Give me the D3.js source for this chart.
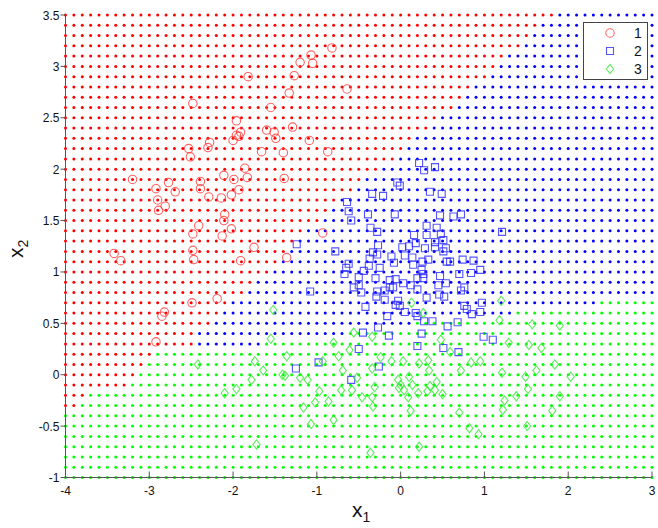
<!DOCTYPE html>
<html><head><meta charset="utf-8">
<script src="https://cdn.jsdelivr.net/npm/d3@7"></script>
<style>body{margin:0;background:#fff;} svg{display:block;font-family:Arial,"Liberation Sans",sans-serif;}</style>
</head><body><svg id="c" width="658" height="528"></svg>
<script>
const xTicks=[-4,-3,-2,-1,0,1,2,3];
const yTicks=[-1,-0.5,0,0.5,1,1.5,2,2.5,3,3.5];
const gridX=d3.range(-40,31).map(i=>i/10);
const gridY=d3.range(35,-11,-1).map(i=>i/10);
// last x of class-1 region per grid row (rows from y=3.5 down to -1.0)
const redEnd=[1.8,1.6,1.5,1.4,1.2,1.1,1.0,0.8,0.7,0.6,0.4,0.3,0.1,0.0,-0.1,-0.3,-0.5,-0.6,-0.8,-0.9,-1.0,-1.2,-1.3,-1.4,-1.5,-1.6,-1.8,-1.9,
 -2.1,-2.2,-2.3,-2.5,-2.5,-3.0,-3.1,-3.2,-3.3,-3.8,-3.9,-4.1,-4.1,-4.1,-4.1,-4.1,-4.1,-4.1];
// last x of class-2 region per grid row
const blueEnd=[3.1,3.1,3.1,3.1,3.1,3.1,3.1,3.1,3.1,3.1,3.1,3.1,3.1,3.1,3.1,3.1,3.1,3.1,3.1,3.1,3.1,3.1,3.1,3.1,3.1,3.1,3.1,3.1,
 2.3,1.3,0.1,-0.7,-1.7,-3.0,-3.1,-3.2,-3.3,-3.8,-3.9,-4.1,-4.1,-4.1,-4.1,-4.1,-4.1,-4.1];
const class1=[[-0.82,3.18],[-1.07,3.11],[-1.20,3.04],[-1.05,3.03],[-1.82,2.90],[-1.27,2.91],[-0.64,2.78],[-1.33,2.74],[-2.48,2.64],[-1.55,2.60],
[-1.96,2.47],[-1.29,2.41],[-1.60,2.38],[-1.51,2.36],[-1.91,2.36],[-1.96,2.33],[-1.93,2.32],[-2.00,2.28],[-1.49,2.30],[-1.09,2.28],
[-2.28,2.26],[-2.30,2.21],[-2.53,2.20],[-2.51,2.12],[-1.66,2.17],[-1.40,2.16],[-0.87,2.17],[-1.86,2.01],[-2.11,1.94],[-3.20,1.90],
[-1.99,1.90],[-1.83,1.92],[-1.39,1.91],[-2.77,1.87],[-2.39,1.88],[-2.39,1.81],[-2.92,1.81],[-2.69,1.78],[-1.93,1.80],[-2.02,1.75],
[-2.29,1.73],[-2.14,1.72],[-2.90,1.70],[-2.81,1.64],[-2.89,1.60],[-2.10,1.56],[-2.11,1.50],[-2.41,1.45],[-2.02,1.42],[-2.48,1.37],
[-2.13,1.35],[-0.93,1.38],[-1.75,1.24],[-3.42,1.18],[-3.34,1.11],[-2.48,1.21],[-2.47,1.12],[-1.36,1.14],[-1.91,1.11],[-2.19,0.74],
[-2.49,0.70],[-2.82,0.61],[-2.85,0.57],[-2.92,0.32]];
const class2=[[0.22,2.06],[0.41,2.02],[0.28,1.99],[-0.04,1.87],[-0.01,1.84],[-0.34,1.76],[-0.21,1.74],[0.35,1.78],[0.49,1.76],[-0.64,1.68],
[-0.62,1.59],[-0.39,1.56],[-0.07,1.56],[0.47,1.55],[0.63,1.54],[0.72,1.56],[-0.59,1.50],[-0.36,1.43],[-0.28,1.39],[0.31,1.45],
[0.43,1.43],[1.21,1.39],[0.16,1.36],[0.31,1.36],[0.48,1.37],[-1.24,1.27],[-0.27,1.26],[0.18,1.28],[0.41,1.29],[0.51,1.31],
[0.02,1.24],[0.10,1.25],[0.29,1.23],[0.41,1.24],[0.54,1.23],[-0.78,1.20],[-0.33,1.19],[-0.28,1.17],[0.51,1.20],[-0.11,1.15],
[0.05,1.16],[0.14,1.14],[-0.37,1.13],[0.26,1.10],[0.33,1.12],[0.55,1.10],[0.59,1.10],[0.74,1.12],[0.87,1.11],[-0.62,1.08],
[-0.08,1.09],[0.15,1.07],[-0.65,1.04],[-0.38,1.06],[-0.25,1.04],[-0.44,1.01],[-0.67,0.98],[0.25,1.02],[0.27,0.98],[0.70,0.98],
[0.84,0.99],[0.95,1.02],[-0.50,0.95],[-0.30,0.94],[0.20,0.94],[0.27,0.94],[0.47,0.96],[-0.13,0.92],[-0.06,0.93],[-0.56,0.85],
[-0.50,0.87],[-0.13,0.85],[-0.09,0.85],[0.03,0.89],[0.12,0.87],[0.20,0.83],[0.45,0.87],[0.54,0.89],[0.76,0.85],[-1.08,0.81],
[-0.47,0.80],[-0.28,0.81],[-0.19,0.82],[0.72,0.82],[-0.29,0.76],[-0.19,0.73],[-0.03,0.72],[0.31,0.75],[0.46,0.78],[0.52,0.76],
[-0.06,0.68],[-0.01,0.67],[-0.42,0.66],[0.05,0.61],[0.18,0.60],[0.20,0.57],[-0.16,0.57],[0.76,0.67],[0.79,0.64],[0.85,0.59],
[0.95,0.61],[0.97,0.70],[0.28,0.52],[0.38,0.52],[-0.27,0.46],[-0.45,0.41],[-0.14,0.38],[0.25,0.40],[0.56,0.47],[0.68,0.51],
[0.99,0.37],[1.10,0.34],[0.20,0.28],[-0.50,0.25],[0.51,0.26],[0.69,0.22],[-0.26,0.08],[-0.59,-0.05],[-0.98,0.12],[-1.25,0.06]];
const class3=[[1.20,0.72],[-1.52,0.63],[0.13,0.70],[0.27,0.60],[1.18,0.53],[1.57,0.49],[1.90,0.48],[-0.56,0.41],[-0.34,0.37],[-1.55,0.35],
[-0.80,0.31],[0.48,0.34],[1.29,0.31],[1.53,0.29],[1.68,0.26],[-0.61,0.24],[-0.74,0.18],[-0.24,0.17],[-1.36,0.18],[-2.42,0.10],
[-1.74,0.13],[-0.93,0.13],[-0.11,0.13],[0.03,0.13],[0.22,0.11],[0.33,0.14],[0.59,0.22],[0.84,0.12],[0.95,0.13],[1.84,0.10],
[-1.64,0.04],[-1.41,0.00],[-1.38,-0.01],[-0.69,0.04],[-0.34,0.06],[0.34,0.04],[0.72,0.04],[1.21,0.02],[1.62,0.04],[2.03,-0.02],
[-1.78,-0.05],[-1.20,-0.03],[-1.11,-0.05],[-0.52,-0.03],[-0.03,-0.05],[0.10,-0.02],[1.49,-0.02],[-1.96,-0.14],[-2.10,-0.18],[-0.97,-0.16],
[-0.71,-0.15],[-0.31,-0.12],[-0.02,-0.13],[0.04,-0.15],[0.14,-0.10],[0.35,-0.11],[0.43,-0.07],[-0.58,-0.15],[1.52,-0.14],[-0.46,-0.22],
[-0.34,-0.22],[0.09,-0.22],[0.21,-0.18],[0.32,-0.16],[0.41,-0.15],[0.50,-0.19],[1.24,-0.25],[1.38,-0.21],[1.90,-0.21],[-1.02,-0.27],
[-0.86,-0.26],[-0.33,-0.31],[-1.16,-0.32],[0.12,-0.35],[0.70,-0.37],[1.22,-0.34],[1.81,-0.35],[-1.07,-0.48],[-0.80,-0.44],[0.82,-0.52],
[0.93,-0.58],[1.51,-0.50],[-1.72,-0.68],[0.22,-0.70],[-0.36,-0.76],[0.00,-0.10]];
const legendLabels=["1","2","3"];
const dotColors=["#ff0000","#0000ff","#00ff00"];
const markColors=["#ff3b3b","#2a2aff","#33e833"];

const svg=d3.select("#c");
const L=65.5,R=652,T=15,B=477.5;
const x=d3.scaleLinear().domain([-4,3]).range([L,R]);
const y=d3.scaleLinear().domain([-1,3.5]).range([B,T]);

// decision grid
const cells=[];
gridY.forEach((gy,i)=>gridX.forEach(gx=>{
  const c = gx<=redEnd[i]+1e-6?0:(gx<=blueEnd[i]+1e-6?1:2);
  cells.push({gx,gy,c});
}));
svg.append("g").selectAll("circle").data(cells).join("circle")
  .attr("cx",d=>x(d.gx)).attr("cy",d=>y(d.gy)).attr("r",1.5)
  .attr("fill",d=>dotColors[d.c]);

const symCircle=d3.symbol().type(d3.symbolCircle).size(Math.PI*4.2*4.2);
const sqPath="M-3.5,-3.5H3.5V3.5H-3.5Z";
const diPath="M0,-4.6L3.6,0L0,4.6L-3.6,0Z";
const shapes=[symCircle(),sqPath,diPath];
const mk=svg.append("g").attr("fill","none").attr("stroke-width",1.1);
[class1,class2,class3].forEach((arr,k)=>{
  mk.append("g").attr("stroke",markColors[k]).attr("stroke-opacity",0.8)
   .selectAll("path").data(arr).join("path")
   .attr("d",shapes[k])
   .attr("transform",d=>`translate(${x(d[0])},${y(d[1])})`);
});

// axes
const ax=svg.append("g").attr("stroke","#555").attr("fill","none");
ax.append("line").attr("x1",L).attr("x2",L).attr("y1",T).attr("y2",B);
ax.append("line").attr("x1",L).attr("x2",R).attr("y1",B).attr("y2",B);
ax.selectAll(".xt").data(xTicks).join("line").attr("class","xt")
  .attr("x1",d=>x(d)).attr("x2",d=>x(d)).attr("y1",B).attr("y2",B-6);
ax.selectAll(".yt").data(yTicks).join("line").attr("class","yt")
  .attr("x1",L-5).attr("x2",L).attr("y1",d=>y(d)).attr("y2",d=>y(d));
svg.append("g").selectAll("text").data(xTicks).join("text")
  .attr("x",d=>x(d)).attr("y",B+17).attr("text-anchor","middle")
  .attr("font-size",12).attr("fill","#111").text(d=>d);
svg.append("g").selectAll("text").data(yTicks).join("text")
  .attr("x",L-6).attr("y",d=>y(d)+4.5).attr("text-anchor","end")
  .attr("font-size",12).attr("fill","#111").text(d=>d);

// axis titles
const xl=svg.append("text").attr("x",352).attr("y",517).attr("font-size",21).attr("fill","#111");
xl.append("tspan").text("x");
xl.append("tspan").attr("font-size",14).attr("dy",5).text("1");
const yl=svg.append("text").attr("transform","translate(23,258) rotate(-90)").attr("font-size",21).attr("fill","#111");
yl.append("tspan").text("x");
yl.append("tspan").attr("font-size",14).attr("dy",5).text("2");

// legend
const lg=svg.append("g");
lg.append("rect").attr("x",583.5).attr("y",22.5).attr("width",64).attr("height",57)
  .attr("fill","#fff").attr("stroke","#444");
legendLabels.forEach((t,k)=>{
  const yy=33+k*18;
  lg.append("path").attr("d",shapes[k]).attr("transform",`translate(610,${yy})`)
    .attr("fill","none").attr("stroke",markColors[k]).attr("stroke-opacity",0.8).attr("stroke-width",1.1);
  lg.append("text").attr("x",638).attr("y",yy+5).attr("text-anchor","middle")
    .attr("font-size",14).attr("fill","#111").text(t);
});
</script></body></html>
